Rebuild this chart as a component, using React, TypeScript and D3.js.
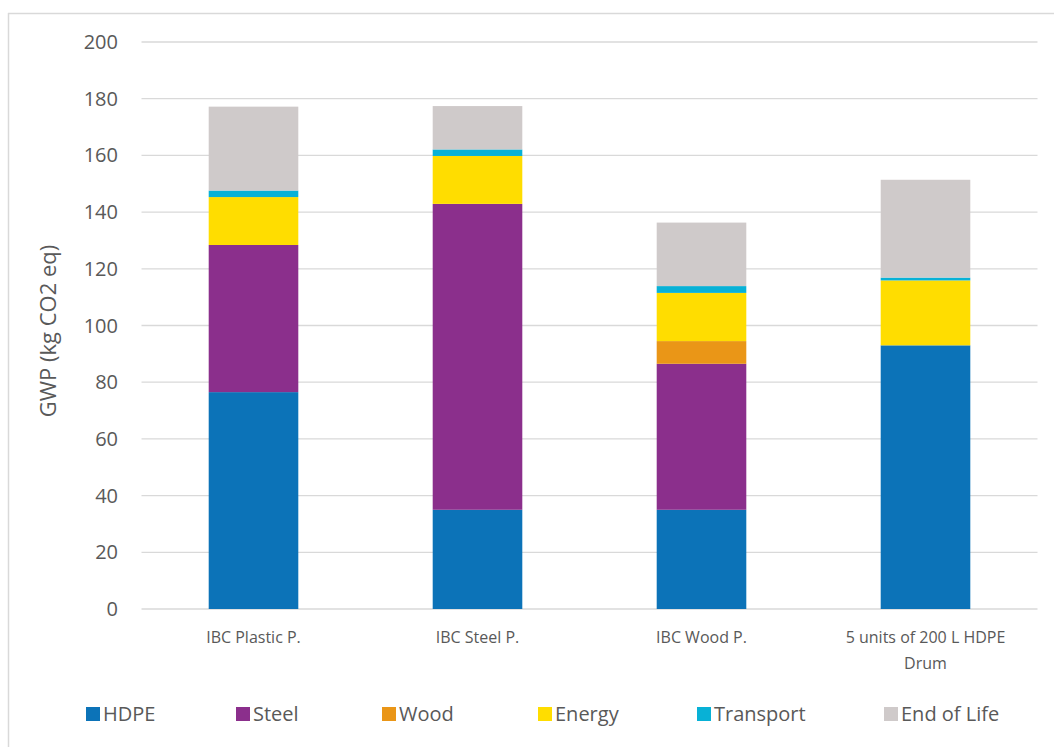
import React from "react";
import * as d3 from "d3";

// Packaging options compared
const categories = ["IBC Plastic P.", "IBC Steel P.", "IBC Wood P.", "5 units of 200 L HDPE Drum"];
const categoryLines = [["IBC Plastic P."], ["IBC Steel P."], ["IBC Wood P."], ["5 units of 200 L HDPE", "Drum"]];

// Life-cycle stages (stack order, bottom to top)
const stages = ["HDPE", "Steel", "Wood", "Energy", "Transport", "End of Life"];
const stageColors = ["#0c73b8", "#8b2f8c", "#ea9617", "#ffdd00", "#08b1d6", "#cfcaca"];

// GWP contribution per stage (kg CO2 eq), one array per stage
const hdpe = [76.5, 35.0, 35.0, 93.0];
const steel = [51.9, 107.9, 51.5, 0];
const wood = [0, 0, 8.0, 0];
const energy = [16.9, 16.9, 17.0, 22.9];
const transport = [2.3, 2.3, 2.4, 1.0];
const endOfLife = [29.6, 15.3, 22.4, 34.5];

const yTicks = [0, 20, 40, 60, 80, 100, 120, 140, 160, 180, 200];

const W = 1054;
const H = 747;
const FONT = "'Open Sans', sans-serif";
const TEXT = "#595959";

export default function App() {
  const series = [hdpe, steel, wood, energy, transport, endOfLife];
  const rows = categories.map((c, i) => {
    const r: Record<string, any> = { category: c };
    stages.forEach((s, k) => (r[s] = series[k][i]));
    return r;
  });
  const stacked = d3.stack<any>().keys(stages)(rows);

  const x = d3.scaleBand<string>().domain(categories).range([141.5, 1037.5]).paddingInner(0.6).paddingOuter(0.3);
  const y = d3.scaleLinear().domain([0, 200]).range([609, 42]);

  const legendX = [86, 236, 382, 538, 697, 884];

  return (
    <svg width={W} height={H} style={{ position: "absolute", left: 0, top: 0, background: "#fff" }} fontFamily={FONT}>
      <rect x={0} y={0} width={W} height={H} fill="#fff" />
      {/* chart frame */}
      <line x1={8.5} y1={13} x2={8.5} y2={H} stroke="#d9d9d9" strokeWidth={1.5} />
      <line x1={8} y1={13.5} x2={W} y2={13.5} stroke="#d9d9d9" strokeWidth={1.5} />

      {/* gridlines and tick labels */}
      {yTicks.map((t) => (
        <g key={t}>
          <line x1={141.5} x2={1037.5} y1={y(t)} y2={y(t)} stroke="#d9d9d9" strokeWidth={1.3} />
          <text x={118} y={y(t)} dy="0.35em" textAnchor="end" fontSize={20} fill={TEXT}>
            {t}
          </text>
        </g>
      ))}

      {/* stacked bars */}
      {stacked.map((layer, k) => (
        <g key={layer.key} fill={stageColors[k]}>
          {layer.map((d, i) =>
            d[1] - d[0] > 0 ? (
              <rect
                key={i}
                x={x(categories[i])}
                y={y(d[1])}
                width={x.bandwidth()}
                height={y(d[0]) - y(d[1])}
              />
            ) : null
          )}
        </g>
      ))}

      {/* category labels */}
      {categories.map((c, i) => (
        <text key={c} x={(x(c) ?? 0) + x.bandwidth() / 2} y={643} textAnchor="middle" fontSize={16} fill={TEXT}>
          {categoryLines[i].map((line, j) => (
            <tspan key={j} x={(x(c) ?? 0) + x.bandwidth() / 2} dy={j === 0 ? 0 : 26}>
              {line}
            </tspan>
          ))}
        </text>
      ))}

      {/* y-axis title */}
      <text
        transform={`translate(56,331) rotate(-90)`}
        textAnchor="middle"
        fontSize={22}
        fill={TEXT}
      >
        GWP (kg CO2 eq)
      </text>

      {/* legend */}
      {stages.map((s, k) => (
        <g key={s} transform={`translate(${legendX[k]},707)`}>
          <rect width={14} height={14} fill={stageColors[k]} />
          <text x={17} y={7} dy="0.35em" fontSize={20} fill={TEXT}>
            {s}
          </text>
        </g>
      ))}
    </svg>
  );
}
